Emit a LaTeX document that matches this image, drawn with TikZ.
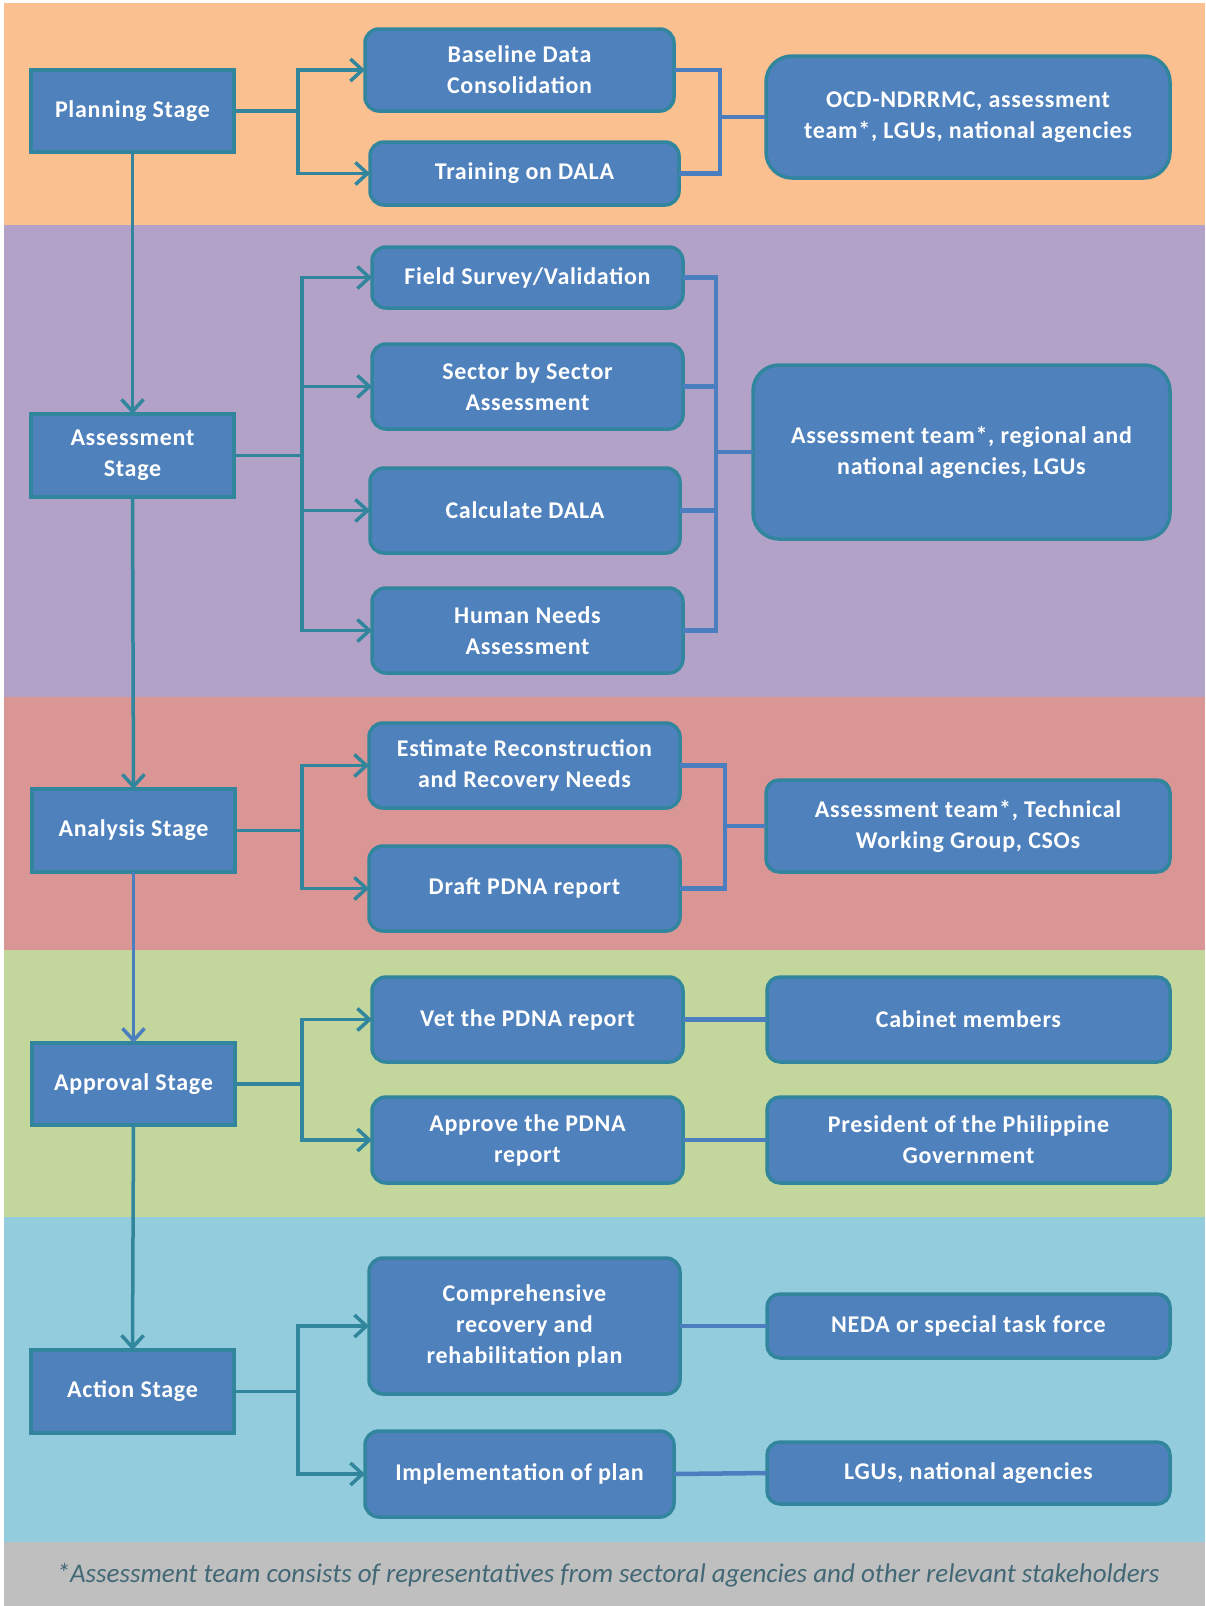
\documentclass[tikz,border=0pt]{standalone}
\usepackage{fontspec}
\setmainfont{Carlito}
\newfontfamily\boxfont{Carlito}[LetterSpace=3]
\usetikzlibrary{arrows.meta}
\definecolor{bOrange}{HTML}{FAC090}
\definecolor{bPurple}{HTML}{B3A2C7}
\definecolor{bRed}{HTML}{D99694}
\definecolor{bGreen}{HTML}{C3D69B}
\definecolor{bAqua}{HTML}{93CDDD}
\definecolor{bGrey}{HTML}{BFBFBF}
\definecolor{boxBlue}{HTML}{4F81BD}
\definecolor{tealLine}{HTML}{31859C}
\definecolor{connBlue}{HTML}{4A7EBF}
\definecolor{noteText}{RGB}{66,104,118}
\begin{document}
\begin{tikzpicture}[x=1pt,y=-1pt,
  box/.style={draw=tealLine, line width=3.5pt, fill=boxBlue, text=white,
    font=\boxfont\bfseries\fontsize{24}{31}\selectfont, align=center,
    inner sep=0pt, outer sep=0pt},
  stagebox/.style={box},
  midbox/.style={box, rounded corners=14pt},
  bigbox/.style={box, rounded corners=26pt},
  sidebox/.style={box, rounded corners=13pt},
  sz/.style 2 args={minimum width=#1pt, minimum height=#2pt},
  arr/.style={draw=tealLine, line width=3.5pt, -{Straight Barb[length=12pt,width=22pt,line width=3.5pt]}},
  barr/.style={draw=connBlue, line width=3.5pt, -{Straight Barb[length=12pt,width=22pt,line width=3.5pt]}},
  conn/.style={draw=connBlue, line width=4.5pt}
]
\useasboundingbox (0,0) rectangle (1205,1606);
\fill[white] (0,0) rectangle (1205,1606);
% bands
\fill[bOrange] (4,3) rectangle (1205,225);
\fill[bPurple] (4,225) rectangle (1205,697);
\fill[bRed] (4,697) rectangle (1205,950);
\fill[bGreen] (4,950) rectangle (1205,1217);
\fill[bAqua] (4,1217) rectangle (1205,1542);
\fill[bGrey] (4,1542) rectangle (1205,1606);

% stage boxes
\node[stagebox, sz={203}{82}] (plan) at (132.5,111) {Planning Stage};
\node[stagebox, sz={203}{83}] (assess) at (132.5,455.5) {Assessment\\Stage};
\node[stagebox, sz={203}{83}] (anal) at (133.5,830.5) {Analysis Stage};
\node[stagebox, sz={203}{82}] (appr) at (133.5,1084) {Approval Stage};
\node[stagebox, sz={203}{83}] (act) at (132.5,1391.5) {Action Stage};

% planning
\node[midbox, sz={309}{82}] (base) at (519.5,70) {Baseline Data\\Consolidation};
\node[midbox, sz={309}{63}] (train) at (524.5,173.5) {Training on DALA};
\node[bigbox, sz={404}{122}] (ocd) at (968,117) {OCD-NDRRMC, assessment\\team*, LGUs, national agencies};

% assessment
\node[midbox, sz={311}{61}] (field) at (527.5,277.5) {Field Survey/Validation};
\node[midbox, sz={311}{85}] (sector) at (527.5,386.5) {Sector by Sector\\Assessment};
\node[midbox, sz={310}{85}] (calc) at (525,510.5) {Calculate DALA};
\node[midbox, sz={311}{85}] (human) at (527.5,630.5) {Human Needs\\Assessment};
\node[bigbox, sz={417}{174}] (ateam) at (961.5,452) {Assessment team*, regional and\\national agencies, LGUs};

% analysis
\node[midbox, sz={311}{85}] (estim) at (524.5,765.5) {Estimate Reconstruction\\and Recovery Needs};
\node[midbox, sz={311}{85}] (draft) at (524.5,888.5) {Draft PDNA report};
\node[sidebox, sz={404}{92}] (twg) at (968,826) {Assessment team*, Technical\\Working Group, CSOs};

% approval
\node[midbox, sz={311}{85}] (vet) at (527.5,1019.5) {Vet the PDNA report};
\node[midbox, sz={311}{86}] (apprv) at (527.5,1140) {Approve the PDNA\\report};
\node[sidebox, sz={403}{85}] (cab) at (968.5,1019.5) {Cabinet members};
\node[sidebox, sz={403}{86}] (pres) at (968.5,1140) {President of the Philippine\\Government};

% action
\node[midbox, sz={311}{136}] (comp) at (524.5,1326) {Comprehensive\\recovery and\\rehabilitation plan};
\node[midbox, sz={309}{86}] (impl) at (519.5,1474) {Implementation of plan};
\node[sidebox, sz={403}{64}] (neda) at (968.5,1326) {NEDA or special task force};
\node[sidebox, sz={403}{62}] (lgu) at (968.5,1473) {LGUs, national agencies};

% footnote
\node[text=noteText, font=\itshape\fontsize{27}{32}\selectfont, inner sep=0pt] (note) at (608,1575)
  {*Assessment team consists of representatives from sectoral agencies and other relevant stakeholders};

% vertical stage arrows
\draw[arr] (plan.south) -- (assess.north);
\draw[arr] (assess.south) -- (anal.north);
\draw[barr] (anal.south) -- (appr.north);
\draw[arr] (appr.south) -- (act.north);

% forks stage -> tasks
\draw[arr] (plan.east) -- (298,111) |- (base.west);
\draw[arr] (plan.east) -- (298,111) |- (train.west);

\draw[arr] (assess.east) -- (302,455.5) |- (field.west);
\draw[arr] (assess.east) -- (302,455.5) |- (sector.west);
\draw[arr] (assess.east) -- (302,455.5) |- (calc.west);
\draw[arr] (assess.east) -- (302,455.5) |- (human.west);

\draw[arr] (anal.east) -- (302,830.5) |- (estim.west);
\draw[arr] (anal.east) -- (302,830.5) |- (draft.west);

\draw[arr] (appr.east) -- (302,1084) |- (vet.west);
\draw[arr] (appr.east) -- (302,1084) |- (apprv.west);

\draw[arr] (act.east) -- (298,1391.5) |- (comp.west);
\draw[arr] (act.east) -- (298,1391.5) |- (impl.west);

% task -> stakeholder connectors
\draw[conn] (base.east) -- (720,70) |- (ocd.west);
\draw[conn] (train.east) -- (720,173.5) |- (ocd.west);

\draw[conn] (field.east) -- (716,277.5) |- (ateam.west);
\draw[conn] (sector.east) -- (716,386.5) |- (ateam.west);
\draw[conn] (calc.east) -- (716,510.5) |- (ateam.west);
\draw[conn] (human.east) -- (716,630.5) |- (ateam.west);

\draw[conn] (estim.east) -- (725,765.5) |- (twg.west);
\draw[conn] (draft.east) -- (725,888.5) |- (twg.west);

\draw[conn] (vet.east) -- (cab.west);
\draw[conn] (apprv.east) -- (pres.west);
\draw[conn] (comp.east) -- (neda.west);
\draw[conn] (impl.east) -- (lgu.west);
\end{tikzpicture}
\end{document}
